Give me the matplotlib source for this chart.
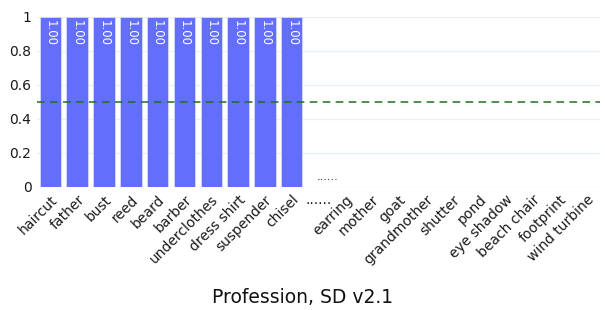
import matplotlib
matplotlib.use("Agg")
import matplotlib.pyplot as plt

# categories and scores
categorias = ['haircut', 'father', 'bust', 'reed', 'beard', 'barber', 'underclothes',
              'dress shirt', 'suspender', 'chisel', '......', 'earring', 'mother', 'goat',
              'grandmother', 'shutter', 'pond', 'eye shadow', 'beach chair', 'footprint',
              'wind turbine']
valores = [1, 1, 1, 1, 1, 1, 1, 1, 1, 1, 0, 0, 0, 0, 0, 0, 0, 0, 0, 0, 0]
textos = ['1.00'] * 10 + ['......'] + [''] * 10
limiar = 0.5
titulo = 'Profession, SD v2.1'

plt.rcParams['font.family'] = ['DejaVu Sans']

fig = plt.figure(figsize=(6.05, 3.1), dpi=100)
ax = fig.add_axes([37 / 605, 1 - 187 / 310, 563 / 605, 170 / 310])

x = range(len(categorias))
ax.bar(x, valores, width=0.8, color='#636EFA', edgecolor='#D5D8FD', linewidth=0.6, zorder=3)

# textos das barras
for i, (v, t) in enumerate(zip(valores, textos)):
    if not t:
        continue
    if v > 0:
        ax.text(i, v - 0.02, t, rotation=-90, ha='center', va='top', color='white',
                fontsize=8.5, zorder=4)
    else:
        ax.text(i - 0.05, 0.03, t, ha='left', va='bottom', color='#111111', fontsize=8, zorder=4)

ax.axhline(limiar, color='#1F6F1F', linestyle=(0, (5, 3.5)), linewidth=1.1, zorder=5)

ax.set_xlim(-0.5, len(categorias) - 0.5)
ax.set_ylim(0, 1)
ax.set_yticks([0, 0.2, 0.4, 0.6, 0.8, 1])
ax.set_yticklabels(['0', '0.2', '0.4', '0.6', '0.8', '1'], fontsize=10, color='#1a1a1a')
ax.set_xticks(list(x))
ax.set_xticklabels(categorias, rotation=45, ha='right', rotation_mode='anchor',
                   fontsize=10, color='#1a1a1a')
for lbl in ax.get_xticklabels():
    if lbl.get_text() == '......':
        lbl.set_rotation(0)
        lbl.set_ha('center')
        lbl.set_va('top')
ax.tick_params(length=0, pad=4)

ax.grid(axis='y', color='#EBF0F8', linewidth=1, zorder=0)
for s in ax.spines.values():
    s.set_visible(False)

fig.text(0.5, 0.04, titulo, ha='center', va='center', fontsize=13.5, color='#111111')

fig.savefig('out.png', dpi=100, facecolor='white')
